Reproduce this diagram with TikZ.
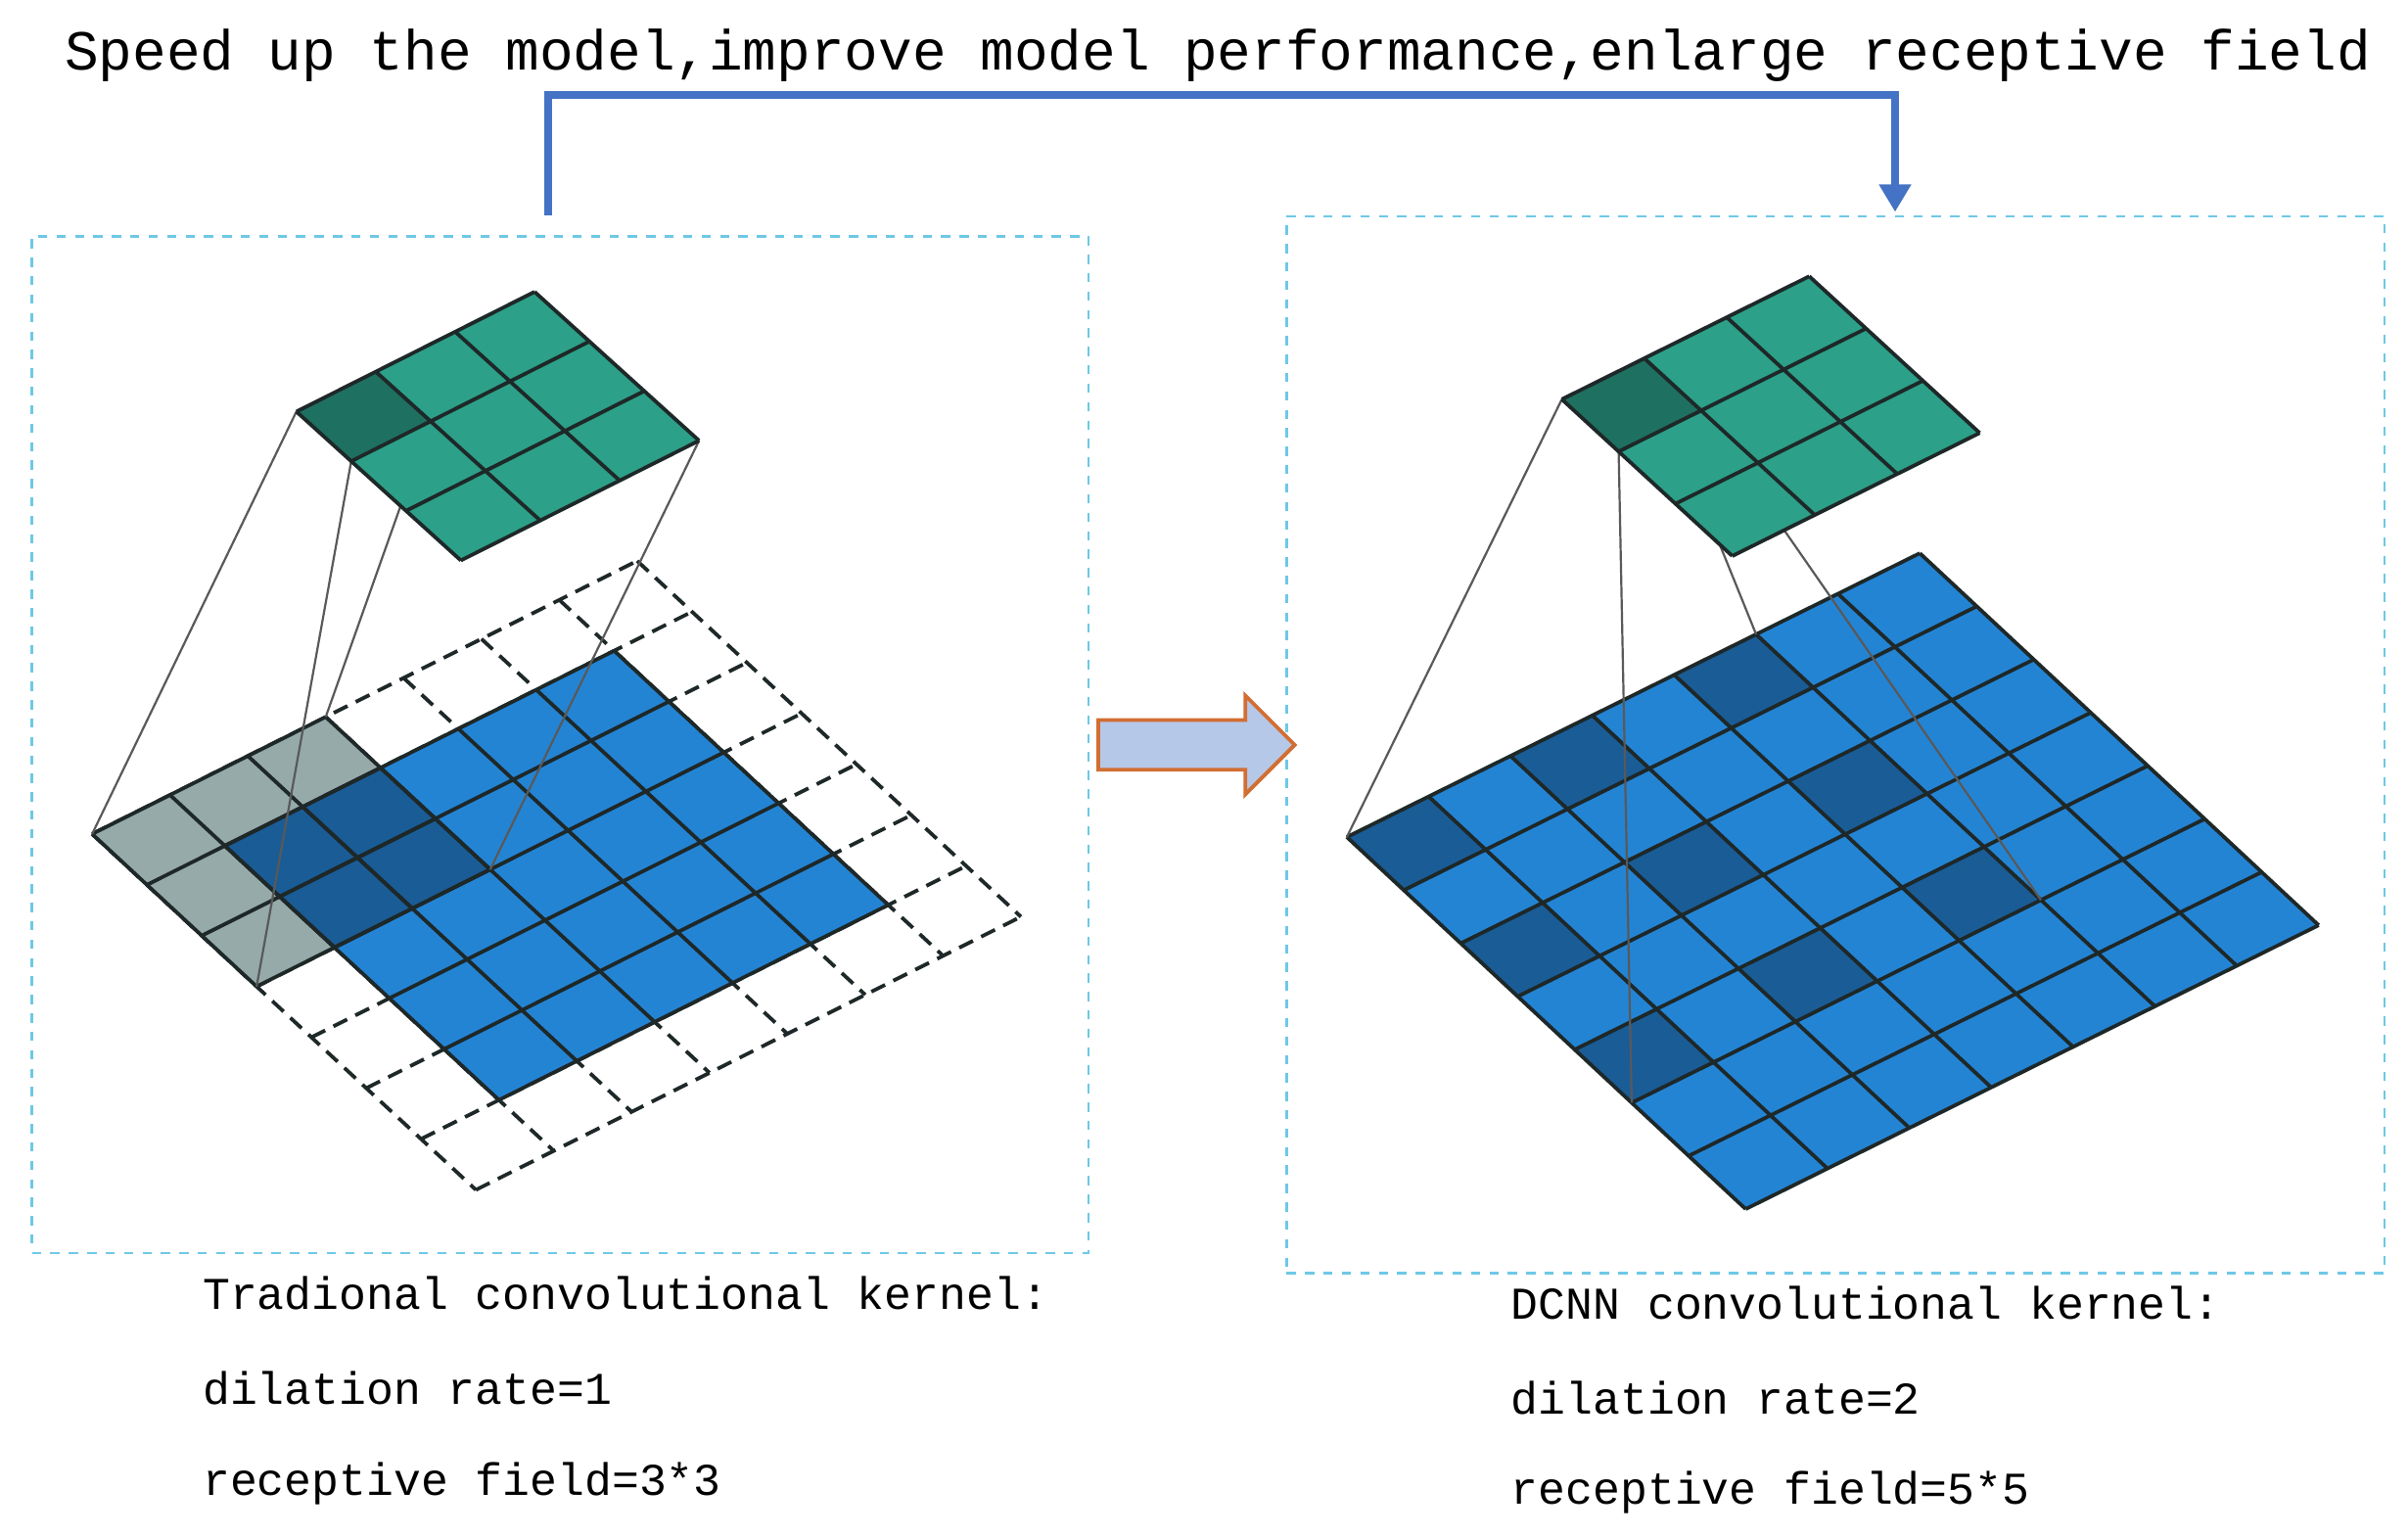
\documentclass[tikz,border=0pt]{standalone}
\usepackage{fontspec}
\setmainfont{Liberation Mono}
\usetikzlibrary{shapes.arrows,arrows.meta}
\definecolor{tgreen}{RGB}{44,160,136}
\definecolor{dgreen}{RGB}{30,112,96}
\definecolor{tblue}{RGB}{36,132,212}
\definecolor{dblue}{RGB}{26,92,150}
\definecolor{tgray}{RGB}{150,170,170}
\definecolor{gline}{RGB}{30,40,40}
\definecolor{boxc}{RGB}{110,200,230}
\definecolor{arrc}{RGB}{68,114,196}
\definecolor{barfill}{RGB}{182,200,232}
\definecolor{barline}{RGB}{210,110,50}
\tikzset{
 gridl/.style={draw=gline,line width=1.2pt},
 conn/.style={draw=gray!70!black,line width=0.7pt},
 box/.style={draw=boxc,dashed,line width=0.8pt},
 lab/.style={anchor=west,font=\fontsize{14.8pt}{16pt}\selectfont},
 iso/.style n args={4}{x=1pt,y=1pt,cm={#1,#2,#3,#4,(0,0)}},
}
\newcommand{\mygrid}[5][]{% opts, x0,y0,x1,y1
 \foreach \k in {#2,...,#4}{\draw[#1] (\k,#3) -- (\k,#5);}
 \foreach \k in {#3,...,#5}{\draw[#1] (#2,\k) -- (#4,\k);}}
\begin{document}
\begin{tikzpicture}[x=0.5pt,y=-0.5pt]
\useasboundingbox[fill=white] (0,0) rectangle (1568,1000);
\node[font=\fontsize{18.4pt}{20pt}\selectfont] (title) at (793,36) {Speed up the model,improve model performance,enlarge receptive field};
\node[box,minimum width=344pt,minimum height=331pt,anchor=north west,inner sep=0] (lbox) at (20,153) {};
\node[box,minimum width=357.5pt,minimum height=344pt,anchor=north west,inner sep=0] (rbox) at (837,140) {};
\coordinate (a1) at (357,140);
\coordinate (a2) at (1234,138);
\draw[arrc,line width=2.5pt,-{Triangle[length=9pt,width=10pt]}] (a1) -- (357,62) -- (1234,62) -- (a2);
\node[single arrow,draw=barline,fill=barfill,line width=1.2pt,minimum height=64pt,minimum width=31pt,single arrow head extend=8pt,single arrow head indent=0pt,inner xsep=0pt,inner ysep=7.5pt] (mid) at (771,485) {};
% left grid
\begin{scope}[shift={(60,543)}]\begin{scope}[iso={25.35}{12.7}{17.85}{-16.55}]
\mygrid[gline,line width=1.2pt,dash pattern=on 5pt off 3pt]{0}{0}{7}{7}
\fill[tgray] (0,0) rectangle (3,3);
\fill[tblue] (1,1) rectangle (6,6);
\fill[dblue] (1,1) rectangle (3,3);
\mygrid[gridl]{0}{0}{3}{3}
\mygrid[gridl]{1}{1}{6}{6}
\coordinate (gl) at (0,0); \coordinate (gt) at (3,0); \coordinate (gr) at (3,3); \coordinate (gb) at (0,3);
\end{scope}\end{scope}
\begin{scope}[shift={(193,268)}]\begin{scope}[iso={25.85}{13}{17.85}{-16.15}]
\coordinate (kl) at (0,0); \coordinate (kt) at (1,0); \coordinate (kr) at (1,1); \coordinate (kb) at (0,1); \coordinate (kbb) at (3,3);
\end{scope}\end{scope}
\draw[conn] (kl) -- (gl); \draw[conn] (kb) -- (gb); \draw[conn] (kr) -- (gt); \draw[conn] (kbb) -- (gr);
\begin{scope}[shift={(193,268)}]\begin{scope}[iso={25.85}{13}{17.85}{-16.15}]
\fill[tgreen] (0,0) rectangle (3,3);
\fill[dgreen] (0,0) rectangle (1,1);
\mygrid[gridl]{0}{0}{3}{3}
\end{scope}\end{scope}
% right grid
\begin{scope}[shift={(877,545)}]\begin{scope}[iso={26.65}{13.2}{18.55}{-17.3}]
\fill[tblue] (0,0) rectangle (7,7);
\foreach \i in {0,2,4}{\foreach \j in {0,2,4}{\fill[dblue] (\i,\j) rectangle ++(1,1);}}
\mygrid[gridl]{0}{0}{7}{7}
\coordinate (hl) at (0,0); \coordinate (ht) at (5,0); \coordinate (hr) at (5,5); \coordinate (hb) at (0,5);
\end{scope}\end{scope}
\begin{scope}[shift={(1017,260)}]\begin{scope}[iso={26.85}{13.35}{18.5}{-17}]
\coordinate (ml) at (0,0); \coordinate (mt) at (1,0); \coordinate (mr) at (1,1); \coordinate (mb) at (0,1);
\end{scope}\end{scope}
\draw[conn] (ml) -- (hl); \draw[conn] (mb) -- (hb); \draw[conn] (mt) -- (ht); \draw[conn] (mr) -- (hr);
\begin{scope}[shift={(1017,260)}]\begin{scope}[iso={26.85}{13.35}{18.5}{-17}]
\fill[tgreen] (0,0) rectangle (3,3);
\fill[dgreen] (0,0) rectangle (1,1);
\mygrid[gridl]{0}{0}{3}{3}
\end{scope}\end{scope}
\node[lab] (l1) at (125,842) {Tradional convolutional kernel:};
\node[lab] (l2) at (125,904) {dilation rate=1};
\node[lab] (l3) at (125,966) {receptive field=3*3};
\node[lab] (r1) at (977,848) {DCNN convolutional kernel:};
\node[lab] (r2) at (977,910) {dilation rate=2};
\node[lab] (r3) at (977,972) {receptive field=5*5};
\end{tikzpicture}
\end{document}
